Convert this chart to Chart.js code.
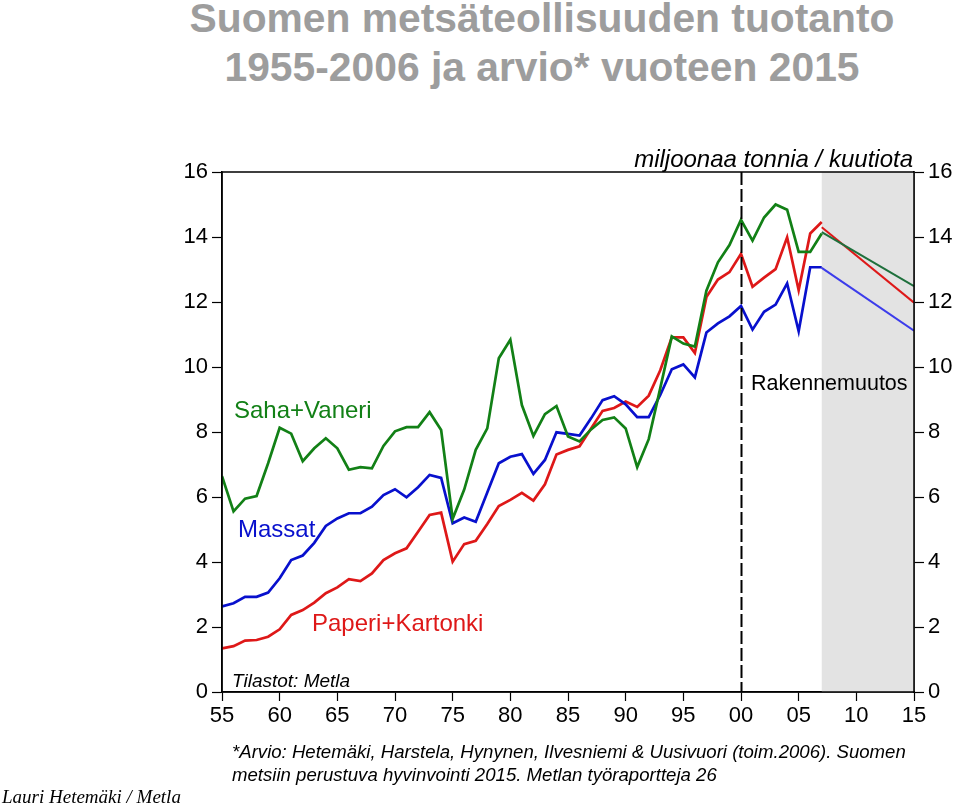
<!DOCTYPE html>
<html>
<head>
<meta charset="utf-8">
<script src="https://cdn.jsdelivr.net/npm/chart.js@4.4.0/dist/chart.umd.min.js"></script>
<style>
  body { margin: 0; background: #fff; width: 960px; height: 810px; overflow: hidden; position: relative; font-family: "Liberation Sans", Arial, sans-serif; }
  #myChart { position: absolute; left: 0; top: 0; }
  .title { position: absolute; left: 0; width: 1084px; text-align: center; font-weight: bold; color: #9d9d9d; font-size: 40.8px; white-space: nowrap; }
  .note { position: absolute; left: 232px; font-style: italic; font-size: 18.6px; color: #000; white-space: nowrap; }
  .author { position: absolute; left: 2px; top: 786px; font-family: "Liberation Serif", "Times New Roman", serif; font-style: italic; font-size: 19px; white-space: nowrap; }
</style>
</head>
<body>
<div class="title" style="top:-5px">Suomen metsäteollisuuden tuotanto</div>
<div class="title" style="top:44px">1955-2006 ja arvio* vuoteen 2015</div>
<canvas id="myChart" width="960" height="810"></canvas>
<div class="note" style="top:741px">*Arvio: Hetemäki, Harstela, Hynynen, Ilvesniemi &amp; Uusivuori (toim.2006). Suomen</div>
<div class="note" style="top:764px">metsiin perustuva hyvinvointi 2015. Metlan työraportteja 26</div>
<div class="author">Lauri Hetemäki / Metla</div>
<script>
const ctx = document.getElementById('myChart');

// vuodet 1955-2007
const years = [];
for (let y = 1955; y <= 2007; y++) years.push(y);

const sahaVaneri = [6.64, 5.56, 5.95, 6.03, 7.04, 8.13, 7.95, 7.1, 7.5, 7.81,
  7.5, 6.84, 6.92, 6.88, 7.57, 8.02, 8.15, 8.15, 8.61, 8.06,
  5.33, 6.23, 7.45, 8.11, 10.27, 10.84, 8.83, 7.88, 8.55, 8.8,
  7.86, 7.71, 8.08, 8.37, 8.45, 8.11, 6.92, 7.78, 9.35, 10.94,
  10.72, 10.63, 12.35, 13.22, 13.75, 14.53, 13.89, 14.6, 15.0, 14.84,
  13.54, 13.54, 14.11];

const massat = [2.63, 2.73, 2.93, 2.93, 3.06, 3.5, 4.06, 4.2, 4.59, 5.11,
  5.34, 5.5, 5.5, 5.7, 6.06, 6.24, 5.99, 6.3, 6.68, 6.59,
  5.19, 5.37, 5.24, 6.14, 7.04, 7.24, 7.32, 6.71, 7.14, 7.99,
  7.94, 7.89, 8.42, 8.98, 9.1, 8.85, 8.46, 8.46, 9.14, 9.93,
  10.08, 9.68, 11.06, 11.34, 11.56, 11.88, 11.15, 11.7, 11.92, 12.57,
  11.1, 13.07, 13.07];

const paperiKartonki = [1.34, 1.41, 1.58, 1.6, 1.7, 1.93, 2.37, 2.52, 2.75, 3.04,
  3.22, 3.47, 3.41, 3.65, 4.06, 4.27, 4.42, 4.93, 5.45, 5.52,
  4.01, 4.55, 4.65, 5.17, 5.72, 5.91, 6.13, 5.89, 6.39, 7.31,
  7.45, 7.56, 8.11, 8.65, 8.74, 8.94, 8.77, 9.12, 9.9, 10.91,
  10.91, 10.43, 12.15, 12.69, 12.92, 13.48, 12.47, 12.75, 13.01, 13.99,
  12.36, 14.11, 14.46];

// arvio 2007 -> 2015
const arvioYears = [2007, 2015];
const arvioSaha = [14.15, 12.49];
const arvioPaperi = [14.3, 11.98];
const arvioMassat = [13.05, 11.12];

const yTicks = [0, 2, 4, 6, 8, 10, 12, 14, 16];
const xTicks = [1955, 1960, 1965, 1970, 1975, 1980, 1985, 1990, 1995, 2000, 2005, 2010, 2015];

const toPoints = (xs, ys) => xs.map((x, i) => ({ x: x, y: ys[i] }));

const greenC = 'rgb(18,128,22)';
const blueC = 'rgb(8,16,205)';
const redC = 'rgb(222,24,24)';

const lineSet = (label, data, color, width) => ({
  label: label,
  data: data,
  borderColor: color,
  borderWidth: width,
  pointRadius: 0,
  tension: 0,
  fill: false
});

const extras = {
  id: 'extras',
  beforeDatasetsDraw(chart) {
    const { ctx, chartArea: a, scales: { x } } = chart;
    ctx.save();
    ctx.fillStyle = '#e3e3e3';
    const x1 = x.getPixelForValue(2007);
    ctx.fillRect(x1, a.top, a.right - x1, a.bottom - a.top);
    ctx.restore();
  },
  afterDatasetsDraw(chart) {
    const { ctx, chartArea: a, scales: { x } } = chart;
    ctx.save();
    // katkoviiva vuonna 2000
    const x0 = Math.round(x.getPixelForValue(2000)) + 0.5;
    ctx.strokeStyle = '#000';
    ctx.lineWidth = 2;
    ctx.setLineDash([13, 4]);
    ctx.beginPath();
    ctx.moveTo(x0, a.top);
    ctx.lineTo(x0, a.bottom);
    ctx.stroke();
    ctx.setLineDash([]);
    ctx.lineWidth = 1.5;
    ctx.strokeRect(a.left, a.top, a.right - a.left, a.bottom - a.top);

    ctx.textBaseline = 'alphabetic';
    ctx.textAlign = 'left';
    ctx.font = '24px "Liberation Sans", Arial, sans-serif';
    ctx.fillStyle = greenC;
    ctx.fillText('Saha+Vaneri', 234, 418);
    ctx.fillStyle = blueC;
    ctx.fillText('Massat', 238, 537);
    ctx.fillStyle = redC;
    ctx.fillText('Paperi+Kartonki', 312, 631);
    ctx.fillStyle = '#000';
    ctx.font = '21.5px "Liberation Sans", Arial, sans-serif';
    ctx.fillText('Rakennemuutos', 751, 390);
    ctx.font = 'italic 19px "Liberation Sans", Arial, sans-serif';
    ctx.fillText('Tilastot: Metla', 232, 687);
    ctx.textAlign = 'right';
    ctx.font = 'italic 24px "Liberation Sans", Arial, sans-serif';
    ctx.fillText('miljoonaa tonnia / kuutiota', 913, 167);
    ctx.restore();
  }
};

const tickFont = { family: '"Liberation Sans", Arial, sans-serif', size: 22 };

const yAxis = (pos, w) => ({
  type: 'linear',
  position: pos,
  min: 0,
  max: 16,
  afterBuildTicks: (s) => { s.ticks = yTicks.map(v => ({ value: v })); },
  afterFit: (s) => { s.width = w; },
  ticks: { color: '#000', font: tickFont, padding: 4 },
  grid: { drawOnChartArea: false, tickLength: 10, tickColor: '#000', tickWidth: 1.2 },
  border: { display: true, color: '#000', width: 1.5 }
});

const myChart = new Chart(ctx, {
  type: 'line',
  data: {
    datasets: [
      lineSet('Saha+Vaneri', toPoints(years, sahaVaneri), greenC, 2.7),
      lineSet('Massat', toPoints(years, massat), blueC, 2.7),
      lineSet('Paperi+Kartonki', toPoints(years, paperiKartonki), redC, 2.7),
      lineSet('Saha+Vaneri arvio', toPoints(arvioYears, arvioSaha), 'rgb(30,112,60)', 2),
      lineSet('Paperi+Kartonki arvio', toPoints(arvioYears, arvioPaperi), redC, 2),
      lineSet('Massat arvio', toPoints(arvioYears, arvioMassat), 'rgb(60,60,235)', 2)
    ]
  },
  options: {
    responsive: false,
    animation: false,
    devicePixelRatio: 1,
    layout: { padding: { top: 172, bottom: 78, left: 0, right: 0 } },
    plugins: { legend: { display: false }, tooltip: { enabled: false } },
    scales: {
      x: {
        type: 'linear',
        min: 1955,
        max: 2015,
        afterBuildTicks: (s) => { s.ticks = xTicks.map(v => ({ value: v })); },
        afterFit: (s) => { s.height = 40; },
        ticks: {
          color: '#000',
          font: tickFont,
          padding: 2,
          maxRotation: 0,
          callback: (v) => String(v % 100).padStart(2, '0')
        },
        grid: { drawOnChartArea: false, tickLength: 9, tickColor: '#000', tickWidth: 1.2 },
        border: { display: true, color: '#000', width: 1.5 }
      },
      y: yAxis('left', 222),
      y2: yAxis('right', 46)
    }
  },
  plugins: [extras]
});
</script>
</body>
</html>
